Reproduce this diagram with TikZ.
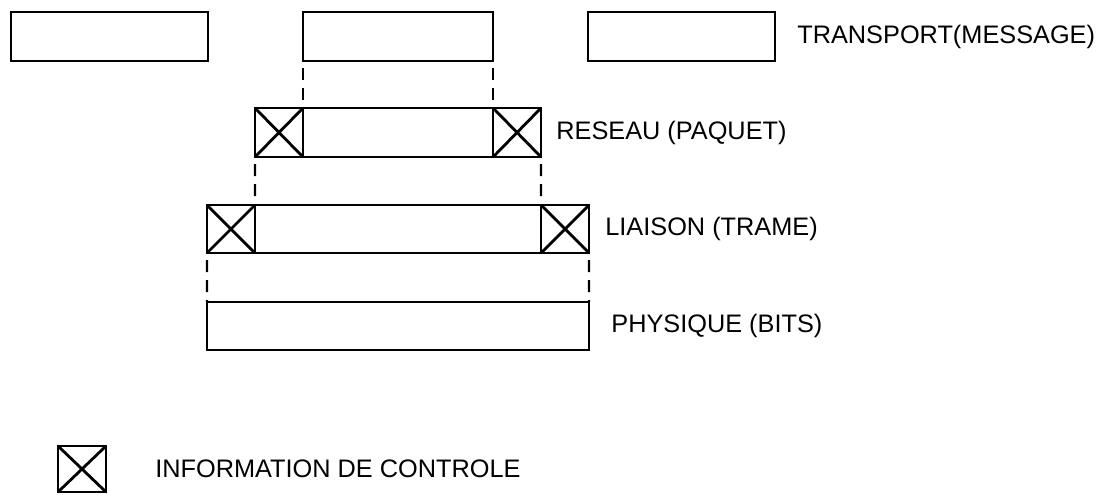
\documentclass[tikz,border=0pt]{standalone}
\usepackage{fontspec}
\setmainfont{Liberation Sans}
\usepackage{tikz}
\usetikzlibrary{positioning}

\tikzset{
  pdu/.style={draw, line width=1.6pt, rectangle, inner sep=0pt, outer sep=0pt, minimum height=1.225cm},
  ctrl/.style={pdu, minimum width=1.2cm, path picture={
      \draw[line width=2pt] (path picture bounding box.south west) -- (path picture bounding box.north east)
        (path picture bounding box.north west) -- (path picture bounding box.south east);}},
  layer/.style={anchor=west, inner sep=0pt, font=\fontsize{18pt}{20pt}\selectfont},
  encap/.style={line width=1.6pt, dash pattern=on 0.3cm off 0.2cm, dash phase=0.325cm}
}

\begin{document}
\begin{tikzpicture}[x=0.025cm, y=-0.025cm]
\useasboundingbox (0,0) rectangle (1103,494);

% Transport (messages)
\node[pdu, anchor=north west, minimum width=4.925cm] (msgA) at (11,12) {};
\node[pdu, anchor=north west, minimum width=4.75cm] (msgB) at (303,12) {};
\node[pdu, anchor=north west, minimum width=4.675cm] (msgC) at (588,12) {};
\node[layer, right=0.55cm of msgC] (lblTransport) {TRANSPORT(MESSAGE)};

% Reseau (paquet)
\node[pdu, anchor=north west, minimum width=4.75cm] (pktBody) at (303,108) {};
\node[ctrl, left=0pt of pktBody] (pktHead) {};
\node[ctrl, right=0pt of pktBody] (pktTail) {};
\node[layer, right=0.375cm of pktTail] (lblReseau) {RESEAU (PAQUET)};
\draw[encap] (msgB.south west) -- (pktBody.north west);
\draw[encap] (msgB.south east) -- (pktBody.north east);

% Liaison (trame)
\node[pdu, anchor=north west, minimum width=7.15cm, minimum height=1.2cm] (frmBody) at (255,205) {};
\node[ctrl, minimum height=1.2cm, left=0pt of frmBody] (frmHead) {};
\node[ctrl, minimum height=1.2cm, right=0pt of frmBody] (frmTail) {};
\node[layer, right=0.4cm of frmTail] (lblLiaison) {LIAISON (TRAME)};
\draw[encap] (pktHead.south west) -- (frmBody.north west);
\draw[encap] (pktTail.south east) -- (frmBody.north east);

% Physique (bits)
\node[pdu, anchor=north west, minimum width=9.55cm, minimum height=1.2cm] (bits) at (207,302) {};
\node[layer, right=0.55cm of bits] (lblPhysique) {PHYSIQUE (BITS)};
\draw[encap] (frmHead.south west) -- (bits.north west);
\draw[encap] (frmTail.south east) -- (bits.north east);

% Legend
\node[ctrl, anchor=north west, minimum height=1.15cm] (key) at (58,446) {};
\node[layer, right=1.225cm of key] (lblKey) {INFORMATION DE CONTROLE};
\end{tikzpicture}
\end{document}
